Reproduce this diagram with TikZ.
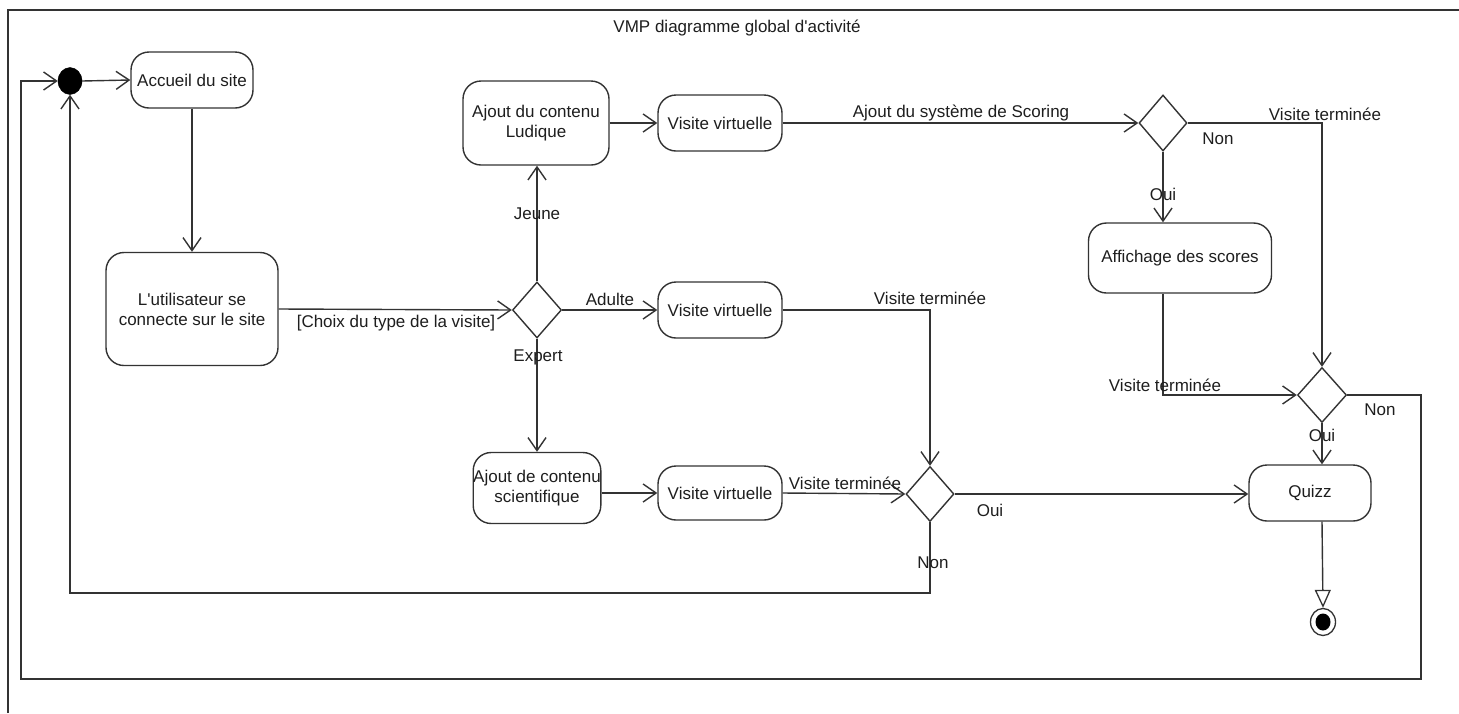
\documentclass[tikz,border=0pt]{standalone}
\usepackage{fontspec}
\setmainfont{Liberation Sans}
\usetikzlibrary{arrows.meta,shapes.geometric}
\definecolor{ink}{HTML}{333333}
\definecolor{txt}{HTML}{1E1E1E}
\begin{document}
\begin{tikzpicture}[x=1pt,y=-1pt,
  every node/.style={font=\fontsize{17pt}{20pt}\selectfont, text=txt},
  action/.style={draw=ink, line width=1.4pt, rounded corners=18pt, inner sep=0pt, align=center, fill=white},
  decision/.style={draw=ink, line width=1.4pt, diamond, inner sep=0pt, fill=white},
  flow/.style={draw=ink, line width=1.4pt, -{Straight Barb[length=13pt,width=18pt,line width=1.4pt]}},
  link/.style={draw=ink, line width=1.4pt},
  lbl/.style={inner sep=0pt, fill=none}]
\useasboundingbox (0,0) rectangle (1459,713);
\fill[white] (0,0) rectangle (1459,713);

% frame and title
\draw[ink, line width=1.4pt] (8,713) -- (8,10) -- (1459,10);
\node[lbl] (title) at (737,28) {VMP diagramme global d\textquotesingle activité};

% initial and final nodes
\node[ellipse, fill=black, draw=black, minimum width=24pt, minimum height=27pt, inner sep=0pt] (start) at (70,81) {};
\node[ellipse, draw=ink, line width=1.3pt, fill=white, minimum width=25pt, minimum height=27pt, inner sep=0pt] (end) at (1323,622) {};
\fill[black] (end.center) ellipse (7.5pt and 8.5pt);

% actions
\node[action, minimum width=122pt, minimum height=56pt] (accueil) at (192,80) {Accueil du site};
\node[action, minimum width=172pt, minimum height=113pt] (user) at (192,309) {L\textquotesingle utilisateur se\\connecte sur le site};
\node[action, minimum width=146pt, minimum height=84pt] (ludique) at (536,123) {Ajout du contenu\\Ludique};
\node[action, minimum width=124pt, minimum height=56pt] (vv1) at (720,123) {Visite virtuelle};
\node[action, minimum width=124pt, minimum height=56pt] (vv2) at (720,310) {Visite virtuelle};
\node[action, minimum width=120pt, minimum height=71pt] (sci) at (537,488) {Ajout de contenu\\scientifique};
\node[action, minimum width=124pt, minimum height=54pt] (vv3) at (720,493) {Visite virtuelle};
\node[action, minimum width=183pt, minimum height=70pt] (scores) at (1180,258) {Affichage des scores};
\node[action, minimum width=122pt, minimum height=56pt] (quizz) at (1310,493) {Quizz};

% decisions
\node[decision, minimum width=49pt, minimum height=56pt] (d1) at (537,310) {};
\node[decision, minimum width=48pt, minimum height=56pt] (d2) at (1163,123) {};
\node[decision, minimum width=48pt, minimum height=55pt] (d3) at (930,494) {};
\node[decision, minimum width=49pt, minimum height=55pt] (d4) at (1322,395) {};

% loop-back corners
\coordinate (innerloop) at (930,593);
\coordinate (outerR) at (1421,679);
\coordinate (outerL) at (21,679);

% connectors
\draw[flow] (start.east) -- (accueil.west);
\draw[flow] (accueil.south) -- (user.north);
\draw[flow] (user.east) -- (d1.west);
\draw[flow] (d1.north) -- (d1.north |- ludique.south);
\draw[flow] (d1.east) -- (vv2.west);
\draw[flow] (d1.south) -- (d1.south |- sci.north);
\draw[flow] (ludique.east) -- (vv1.west);
\draw[flow] (vv1.east) -- (d2.west);
\draw[flow] (d2.south) -- (d2.south |- scores.north);
\draw[flow] (d2.east) -| (d4.north);
\draw[flow] (d2.south |- scores.south) |- (d4.west);
\draw[flow] (vv2.east) -| (d3.north);
\draw[flow] (sci.east |- vv3.west) -- (vv3.west);
\draw[flow] (vv3.east) -- (d3.west);
\draw[flow] (d3.east) -- (d3.east -| quizz.west);
\draw[flow] (d3.south) -- (innerloop) -| (start.south);
\draw[flow] (d4.east) -| (outerR) -- (outerL) |- (start.west);
\draw[flow] (d4.south) -- (d4.south |- quizz.north);
\draw[link, -{Triangle[open, length=18pt, width=16pt, line width=1.3pt, fill=white]}] (d4.south |- quizz.south) -- (end.north);

% guards and labels
\node[lbl] (l1) at (961,113) {Ajout du système de Scoring};
\node[lbl] (l2) at (1218,139) {Non};
\node[lbl] (l3) at (1325,114) {Visite terminée};
\node[lbl] (l4) at (1163,194) {Oui};
\node[lbl] (l5) at (537,214) {Jeune};
\node[lbl] (l6) at (610,299) {Adulte};
\node[lbl] (l7) at (538,357) {Expert};
\node[lbl] (l8) at (396,323) {[Choix du type de la visite]};
\node[lbl] (l9) at (930,298) {Visite terminée};
\node[lbl] (l10) at (845,483) {Visite terminée};
\node[lbl] (l11) at (990,510) {Oui};
\node[lbl] (l12) at (933,563) {Non};
\node[lbl] (l13) at (1165,385) {Visite terminée};
\node[lbl] (l14) at (1380,410) {Non};
\node[lbl] (l15) at (1322,435) {Oui};
\end{tikzpicture}
\end{document}
